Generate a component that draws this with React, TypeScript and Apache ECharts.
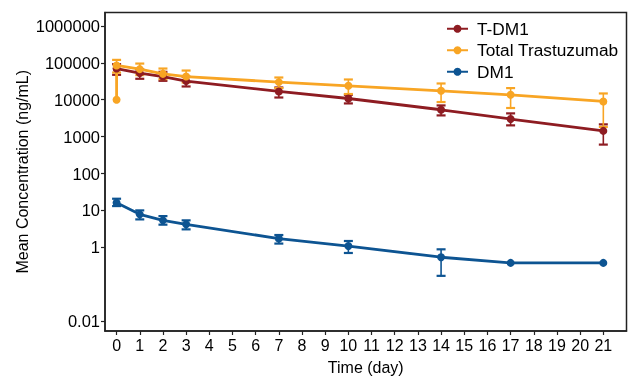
import React, { useEffect, useRef } from "react";
import * as echarts from "echarts";

// ---- data ----
const days = [0, 1, 2, 3, 7, 10, 14, 17, 21];
const xTickValues = [0, 1, 2, 3, 4, 5, 6, 7, 8, 9, 10, 11, 12, 13, 14, 15, 16, 17, 18, 19, 20, 21];
const yTickValues = [0.01, 1, 10, 100, 1000, 10000, 100000, 1000000];
const yTickLabels = ["0.01", "1", "10", "100", "1000", "10000", "100000", "1000000"];

const tdm1Mean = [70000, 52700, 42600, 32000, 16800, 10800, 5350, 3000, 1430];
const tdm1Upper = [92300, 66000, 57000, 42000, 21500, 13600, 7010, 4270, 2150];
const tdm1Lower = [47400, 37000, 32600, 22900, 11500, 7950, 3760, 2020, 608];

const ttDays = [0, 0, 1, 2, 3, 7, 10, 14, 17, 21];
const ttMean = [10000, 85000, 67500, 50400, 42600, 30100, 23900, 17500, 13600, 9000];
const ttUpper = [120500, 95700, 70200, 61900, 40100, 35400, 27600, 20700, 14800];
const ttLower = [54700, 46500, 36300, 29300, 20700, 14300, 8670, 5970, 1830];

const dm1Mean = [16.1, 7.8, 5.37, 4.19, 1.72, 1.08, 0.537, 0.377, 0.377];
const dm1Upper = [20.7, 10, 7.0, 5.37, 2.15, 1.48, 0.88, null, null];
const dm1Lower = [13.1, 5.7, 4.1, 3.06, 1.26, 0.7, 0.168, null, null];

const seriesNames = ["T-DM1", "Total Trastuzumab", "DM1"];
const colors = ["#8e1c22", "#f8a524", "#0d5492"];

const FONT = "'Liberation Sans', Arial, sans-serif";
const lg = (v: number) => Math.log10(v);

function lineSeries(name: string, color: string, xs: number[], ys: number[]) {
  return {
    type: "line",
    name,
    data: xs.map((x, i) => [x, lg(ys[i])]),
    symbol: "circle",
    symbolSize: 8,
    lineStyle: { color, width: 2.8 },
    itemStyle: { color },
    z: 3,
  };
}

function errSeries(name: string, color: string, xs: number[], lo: (number | null)[], hi: (number | null)[]) {
  const data: number[][] = [];
  xs.forEach((x, i) => {
    const l = lo[i];
    const h = hi[i];
    if (l != null && h != null) data.push([x, lg(l), lg(h)]);
  });
  return {
    type: "custom",
    name,
    silent: true,
    z: 2,
    data,
    encode: { x: 0, y: [1, 2] },
    renderItem: (params: any, api: any) => {
      const x = api.value(0);
      const pLo = api.coord([x, api.value(1)]);
      const pHi = api.coord([x, api.value(2)]);
      const hw = 4.5;
      return {
        type: "group",
        children: [
          { type: "line", shape: { x1: pLo[0], y1: pLo[1], x2: pHi[0], y2: pHi[1] }, style: { stroke: color, lineWidth: 1.6 } },
          { type: "line", shape: { x1: pLo[0] - hw, y1: pLo[1], x2: pLo[0] + hw, y2: pLo[1] }, style: { stroke: color, lineWidth: 2.2 } },
          { type: "line", shape: { x1: pHi[0] - hw, y1: pHi[1], x2: pHi[0] + hw, y2: pHi[1] }, style: { stroke: color, lineWidth: 2.2 } },
        ],
      };
    },
  };
}

export default function App() {
  const ref = useRef<HTMLDivElement>(null);
  useEffect(() => {
    if (!ref.current) return;
    const chart = echarts.init(ref.current, undefined, { renderer: "svg" });
    const yLabelMap: Record<string, string> = {};
    yTickValues.forEach((v, i) => {
      yLabelMap[lg(v).toFixed(3)] = yTickLabels[i];
    });
    chart.setOption({
      animation: false,
      textStyle: { fontFamily: FONT },
      grid: {
        left: 105,
        right: 2.5,
        top: 12.5,
        bottom: 48,
        show: true,
        borderColor: "#222",
        borderWidth: 1.5,
        backgroundColor: "transparent",
      },
      legend: {
        data: seriesNames,
        orient: "vertical",
        left: 441,
        top: 15,
        itemWidth: 21,
        itemHeight: 10,
        itemGap: 4,
        textStyle: { fontSize: 17.3, color: "#000", fontFamily: FONT, lineHeight: 17.5, padding: [0, 0, 0, 4] },
      },
      xAxis: {
        type: "value",
        min: -0.5,
        max: 22,
        name: "Time (day)",
        nameLocation: "middle",
        nameGap: 28,
        nameMoveOverlap: false,
        nameTextStyle: { fontSize: 16, color: "#000", fontFamily: FONT },
        axisLine: { show: true, onZero: false, lineStyle: { color: "#222", width: 1.5 } },
        axisTick: { show: true, length: 4, customValues: xTickValues, lineStyle: { color: "#222", width: 1.2 } },
        axisLabel: {
          customValues: xTickValues,
          fontSize: 16,
          color: "#000",
          margin: 6,
          fontFamily: FONT,
          formatter: (v: number) => String(Math.round(v)),
        },
        splitLine: { show: false },
      },
      yAxis: {
        type: "value",
        min: lg(0.00537),
        max: lg(2320000),
        name: "Mean Concentration (ng/mL)",
        nameLocation: "middle",
        nameGap: 75,
        nameMoveOverlap: false,
        nameTextStyle: { fontSize: 16, color: "#000", fontFamily: FONT },
        axisLine: { show: true, onZero: false, lineStyle: { color: "#222", width: 1.5 } },
        axisTick: { show: true, length: 4, customValues: yTickValues.map(lg), lineStyle: { color: "#222", width: 1.2 } },
        axisLabel: {
          customValues: yTickValues.map(lg),
          fontSize: 16.5,
          color: "#000",
          margin: 5,
          fontFamily: FONT,
          formatter: (v: number) => yLabelMap[v.toFixed(3)] ?? "",
        },
        splitLine: { show: false },
      },
      series: [
        errSeries("err-tdm1", colors[0], days, tdm1Lower, tdm1Upper),
        lineSeries(seriesNames[0], colors[0], days, tdm1Mean),
        errSeries("err-tt", colors[1], days, ttLower, ttUpper),
        lineSeries(seriesNames[1], colors[1], ttDays, ttMean),
        errSeries("err-dm1", colors[2], days, dm1Lower, dm1Upper),
        lineSeries(seriesNames[2], colors[2], days, dm1Mean),
      ],
    });
    return () => chart.dispose();
  }, []);
  return <div ref={ref} style={{ position: "fixed", left: 0, top: 0, width: 629, height: 380 }} />;
}
